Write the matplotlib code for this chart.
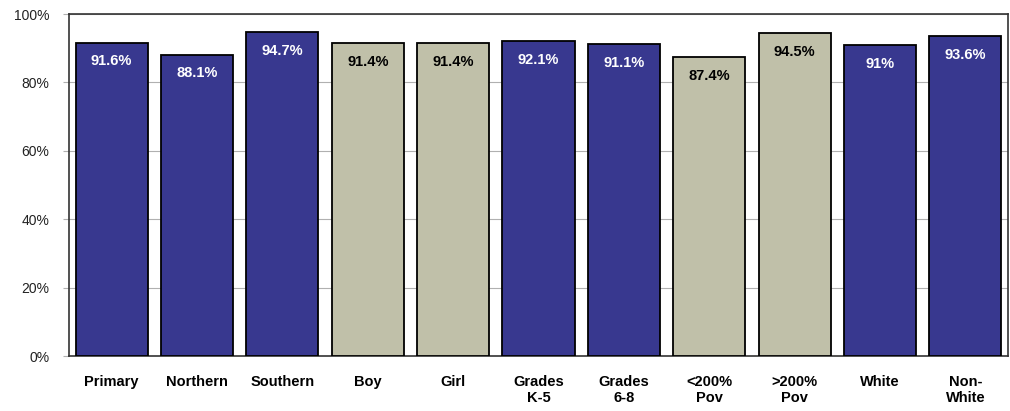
import matplotlib
matplotlib.use("Agg")
import matplotlib.pyplot as plt
from matplotlib.ticker import PercentFormatter

categories = ["Primary", "Northern", "Southern", "Boy", "Girl", "Grades\nK-5",
              "Grades\n6-8", "<200%\nPov", ">200%\nPov", "White", "Non-\nWhite"]
values = [91.6, 88.1, 94.7, 91.4, 91.4, 92.1, 91.1, 87.4, 94.5, 91.0, 93.6]
value_labels = ["91.6%", "88.1%", "94.7%", "91.4%", "91.4%", "92.1%", "91.1%",
                "87.4%", "94.5%", "91%", "93.6%"]
groups = ["b", "b", "b", "t", "t", "b", "b", "t", "t", "b", "b"]

BLUE = "#38388F"
TAN = "#C0C0A9"
colors = [BLUE if g == "b" else TAN for g in groups]
txtcolors = ["white" if g == "b" else "black" for g in groups]

plt.rcParams['font.family'] = ['Liberation Sans', 'DejaVu Sans']

fig = plt.figure(figsize=(10.10, 4.11), dpi=100)
ax = fig.add_axes([69/1010, 1 - 356/411, 939/1010, (356-14)/411])

x = list(range(len(categories)))
ax.bar(x, values, width=0.845, color=colors, edgecolor="black", linewidth=1.3, zorder=3)

for xi, v, lab, tc in zip(x, values, value_labels, txtcolors):
    ax.annotate(lab, (xi, v), xytext=(0, -13.5), textcoords="offset points",
                ha="center", va="center", color=tc, fontsize=10.5, fontweight="bold",
                zorder=4)

ax.set_xlim(-0.5, len(categories) - 0.5)
ax.set_ylim(0, 100)
ax.set_yticks([0, 20, 40, 60, 80, 100])
ax.yaxis.set_major_formatter(PercentFormatter(decimals=0))
ax.grid(axis="y", color="#B0B0B0", linewidth=0.8, zorder=0)
ax.set_axisbelow(True)

ax.set_xticks(x)
ax.set_xticklabels(categories, fontsize=10.5, fontweight="bold", linespacing=1.1)
ax.tick_params(axis="x", length=0, pad=14)
ax.tick_params(axis="y", length=4, color="#B0B0B0", labelsize=10, pad=10,
               labelcolor="#222222")
for lbl in ax.get_xticklabels():
    lbl.set_verticalalignment("top")

for s in ax.spines.values():
    s.set_color("#333333")
    s.set_linewidth(1.2)

fig.savefig("out.png", dpi=100)
